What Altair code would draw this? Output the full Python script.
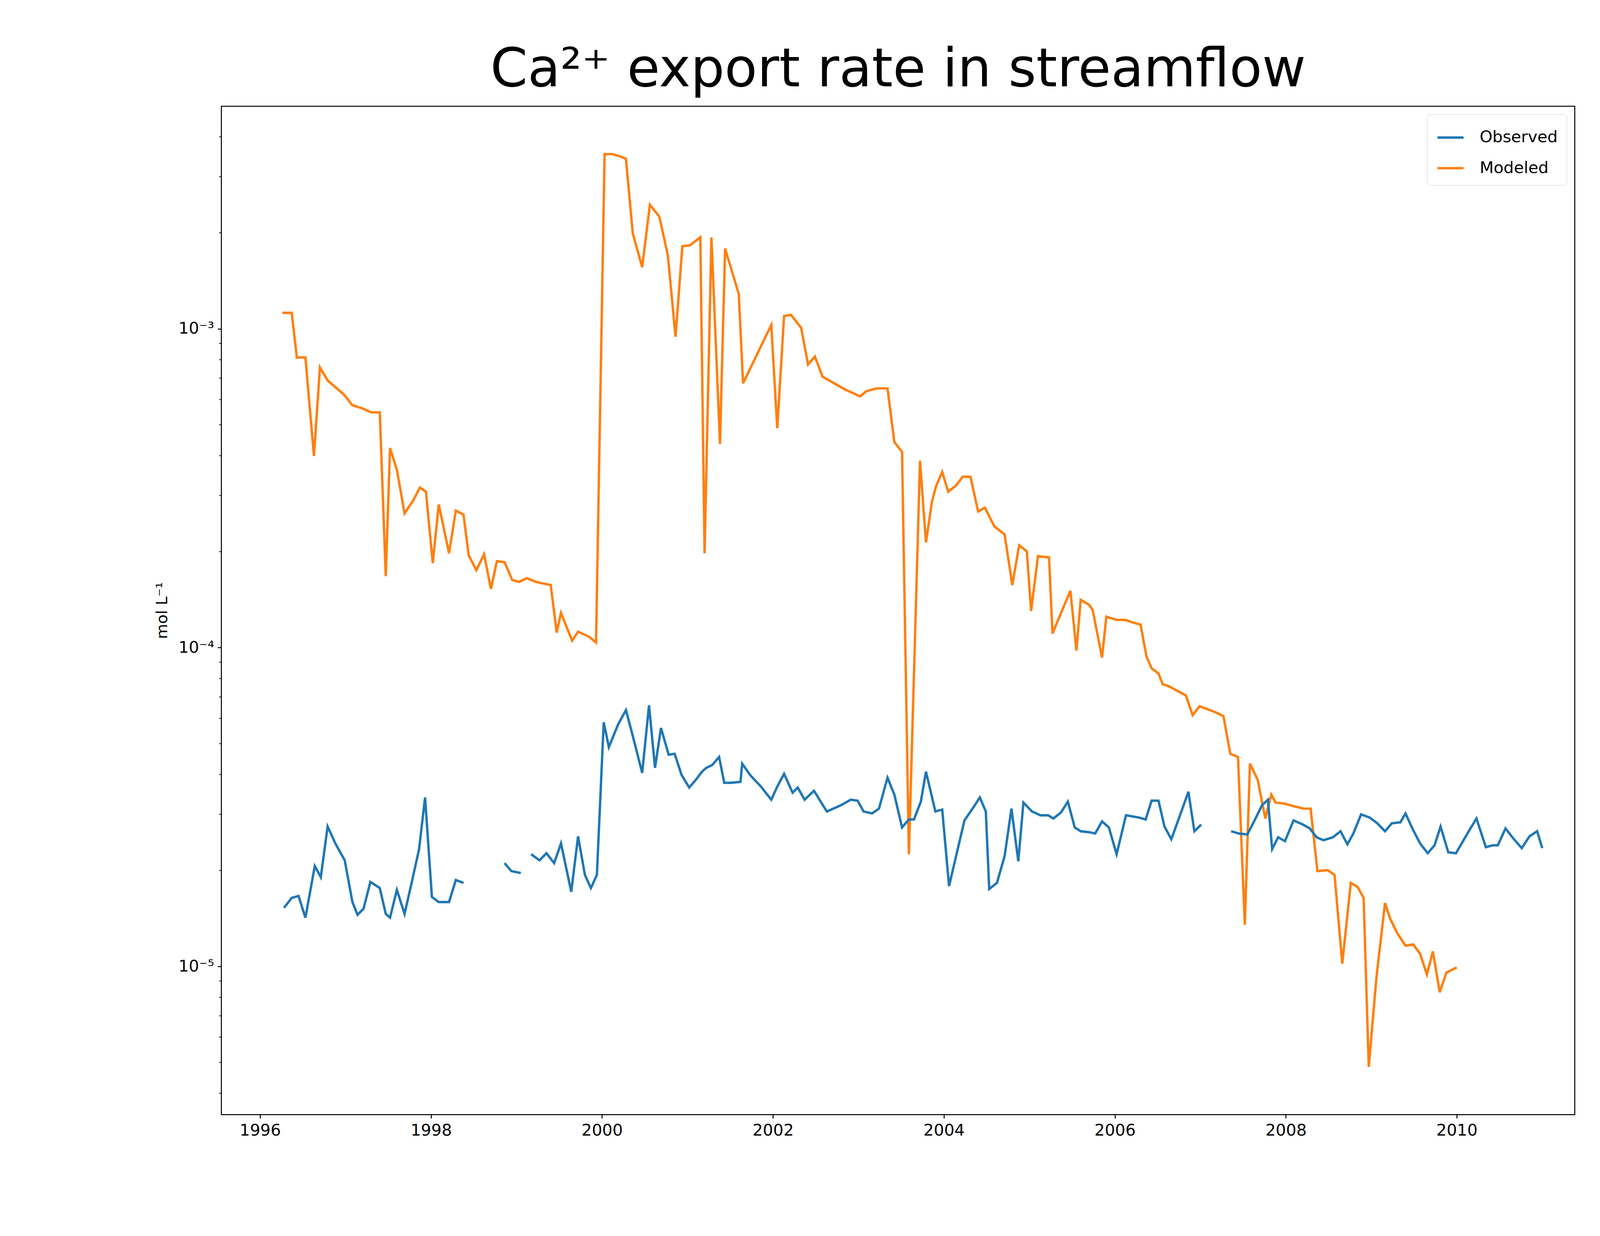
import pandas as pd
import altair as alt

# values: decimal year and log10(mol/L)
mod_year = [1996.26, 1996.37, 1996.43, 1996.53, 1996.63, 1996.70, 1996.79, 1996.98, 1997.08, 1997.19,
            1997.30, 1997.40, 1997.47, 1997.52, 1997.60, 1997.69, 1997.79, 1997.87, 1997.94, 1998.02,
            1998.09, 1998.21, 1998.29, 1998.38, 1998.44, 1998.53, 1998.62, 1998.70, 1998.77, 1998.86,
            1998.95, 1999.03, 1999.12, 1999.23, 1999.30, 1999.40, 1999.47, 1999.52, 1999.65, 1999.72,
            1999.85, 1999.93, 2000.03, 2000.12, 2000.20, 2000.28, 2000.36, 2000.47, 2000.56, 2000.67,
            2000.77, 2000.86, 2000.94, 2001.03, 2001.15, 2001.20, 2001.28, 2001.38, 2001.44, 2001.60,
            2001.65, 2001.98, 2002.05, 2002.13, 2002.21, 2002.33, 2002.41, 2002.49, 2002.58, 2002.84,
            2003.02, 2003.09, 2003.21, 2003.34, 2003.42, 2003.51, 2003.59, 2003.72, 2003.79, 2003.86,
            2003.91, 2003.98, 2004.05, 2004.14, 2004.22, 2004.31, 2004.40, 2004.48, 2004.59, 2004.71,
            2004.80, 2004.88, 2004.97, 2005.02, 2005.10, 2005.23, 2005.27, 2005.37, 2005.48, 2005.55,
            2005.60, 2005.70, 2005.74, 2005.85, 2005.90, 2006.02, 2006.12, 2006.22, 2006.30, 2006.37,
            2006.43, 2006.51, 2006.56, 2006.63, 2006.72, 2006.83, 2006.91, 2006.99, 2007.08, 2007.17,
            2007.27, 2007.35, 2007.44, 2007.52, 2007.58, 2007.67, 2007.76, 2007.83, 2007.88, 2007.98,
            2008.10, 2008.21, 2008.29, 2008.37, 2008.49, 2008.57, 2008.66, 2008.76, 2008.84, 2008.91,
            2008.97, 2009.06, 2009.16, 2009.22, 2009.30, 2009.40, 2009.49, 2009.57, 2009.65, 2009.72,
            2009.80, 2009.88, 2010.00]
mod_exp = [-2.950, -2.950, -3.090, -3.090, -3.399, -3.121, -3.162, -3.206, -3.240, -3.249,
           -3.262, -3.262, -3.776, -3.374, -3.442, -3.579, -3.539, -3.498, -3.511, -3.735,
           -3.551, -3.704, -3.570, -3.583, -3.710, -3.757, -3.707, -3.816, -3.729, -3.732,
           -3.788, -3.794, -3.782, -3.794, -3.798, -3.804, -3.953, -3.891, -3.978, -3.950,
           -3.966, -3.984, -2.452, -2.452, -2.458, -2.467, -2.701, -2.807, -2.611, -2.648,
           -2.769, -3.025, -2.741, -2.738, -2.713, -3.704, -2.713, -3.361, -2.748, -2.891,
           -3.171, -2.988, -3.312, -2.960, -2.956, -2.997, -3.112, -3.087, -3.150, -3.190,
           -3.212, -3.196, -3.187, -3.187, -3.355, -3.386, -4.648, -3.414, -3.670, -3.542,
           -3.492, -3.449, -3.511, -3.492, -3.464, -3.464, -3.573, -3.561, -3.620, -3.645,
           -3.804, -3.679, -3.698, -3.885, -3.713, -3.717, -3.956, -3.891, -3.822, -4.009,
           -3.850, -3.866, -3.882, -4.031, -3.903, -3.913, -3.913, -3.922, -3.928, -4.028,
           -4.065, -4.081, -4.115, -4.121, -4.134, -4.150, -4.212, -4.184, -4.193, -4.202,
           -4.215, -4.333, -4.343, -4.869, -4.364, -4.414, -4.536, -4.461, -4.486, -4.489,
           -4.498, -4.505, -4.505, -4.701, -4.698, -4.713, -4.991, -4.738, -4.751, -4.785,
           -5.315, -5.034, -4.801, -4.850, -4.894, -4.935, -4.931, -4.960, -5.025, -4.953,
           -5.081, -5.019, -5.003]

obs_year_1 = [1996.28, 1996.37, 1996.45, 1996.53, 1996.64, 1996.71, 1996.79, 1996.88, 1996.99, 1997.08,
              1997.14, 1997.21, 1997.29, 1997.40, 1997.47, 1997.52, 1997.60, 1997.69, 1997.78, 1997.86,
              1997.93, 1998.01, 1998.09, 1998.21, 1998.29, 1998.38]
obs_exp_1 = [-4.816, -4.785, -4.779, -4.847, -4.685, -4.720, -4.561, -4.614, -4.667, -4.798,
             -4.838, -4.819, -4.735, -4.754, -4.835, -4.847, -4.760, -4.835, -4.729, -4.632,
             -4.470, -4.782, -4.798, -4.798, -4.729, -4.738]
obs_year_2 = [1998.86, 1998.94, 1999.05]
obs_exp_2 = [-4.676, -4.701, -4.707]
obs_year_3 = [1999.17, 1999.27, 1999.35, 1999.44, 1999.52, 1999.64, 1999.72, 1999.80, 1999.87, 1999.94,
              2000.02, 2000.08, 2000.19, 2000.28, 2000.36, 2000.47, 2000.55, 2000.62, 2000.69, 2000.78,
              2000.85, 2000.93, 2001.02, 2001.10, 2001.17, 2001.22, 2001.29, 2001.37, 2001.43, 2001.51,
              2001.62, 2001.64, 2001.74, 2001.86, 2001.98, 2002.05, 2002.13, 2002.23, 2002.29, 2002.37,
              2002.48, 2002.63, 2002.79, 2002.91, 2002.99, 2003.06, 2003.16, 2003.24, 2003.34, 2003.42,
              2003.51, 2003.59, 2003.65, 2003.73, 2003.79, 2003.90, 2003.98, 2004.06, 2004.24, 2004.36,
              2004.42, 2004.49, 2004.53, 2004.62, 2004.71, 2004.79, 2004.87, 2004.93, 2005.03, 2005.13,
              2005.22, 2005.28, 2005.37, 2005.45, 2005.53, 2005.60, 2005.70, 2005.77, 2005.85, 2005.93,
              2006.02, 2006.13, 2006.28, 2006.36, 2006.43, 2006.51, 2006.58, 2006.66, 2006.77, 2006.86,
              2006.93, 2007.01]
obs_exp_3 = [-4.648, -4.667, -4.645, -4.676, -4.614, -4.766, -4.592, -4.713, -4.754, -4.713,
             -4.234, -4.312, -4.240, -4.196, -4.277, -4.393, -4.181, -4.377, -4.252, -4.336,
             -4.333, -4.399, -4.439, -4.414, -4.389, -4.377, -4.368, -4.343, -4.424, -4.424,
             -4.421, -4.364, -4.402, -4.436, -4.477, -4.436, -4.396, -4.455, -4.439, -4.477,
             -4.449, -4.514, -4.495, -4.477, -4.480, -4.514, -4.520, -4.505, -4.408, -4.461,
             -4.564, -4.539, -4.539, -4.483, -4.389, -4.514, -4.508, -4.748, -4.542, -4.495,
             -4.470, -4.514, -4.757, -4.738, -4.654, -4.505, -4.670, -4.486, -4.514, -4.526,
             -4.526, -4.536, -4.517, -4.483, -4.564, -4.576, -4.579, -4.583, -4.545, -4.564,
             -4.648, -4.526, -4.533, -4.539, -4.480, -4.480, -4.561, -4.601, -4.520, -4.452,
             -4.576, -4.555]
obs_year_4 = [2007.36, 2007.45, 2007.55, 2007.64, 2007.72, 2007.79, 2007.84, 2007.91, 2007.99, 2008.09,
              2008.20, 2008.28, 2008.36, 2008.44, 2008.55, 2008.64, 2008.72, 2008.79, 2008.88, 2008.98,
              2009.07, 2009.16, 2009.24, 2009.34, 2009.40, 2009.48, 2009.57, 2009.66, 2009.74, 2009.81,
              2009.90, 2009.99, 2010.14, 2010.23, 2010.34, 2010.42, 2010.48, 2010.57, 2010.65, 2010.76,
              2010.85, 2010.94, 2011.00]
obs_exp_4 = [-4.576, -4.583, -4.586, -4.539, -4.495, -4.477, -4.632, -4.595, -4.607, -4.542,
             -4.555, -4.567, -4.595, -4.604, -4.595, -4.576, -4.617, -4.583, -4.523, -4.533,
             -4.551, -4.576, -4.551, -4.548, -4.520, -4.567, -4.614, -4.645, -4.620, -4.561,
             -4.642, -4.645, -4.576, -4.536, -4.626, -4.620, -4.620, -4.567, -4.595, -4.629,
             -4.592, -4.576, -4.629]

rows = []
for yr, ex in zip(mod_year, mod_exp):
    rows.append({"series": "Modeled", "seg": "m", "year": yr, "value": 10 ** ex})
obs = [(obs_year_1, obs_exp_1), (obs_year_2, obs_exp_2), (obs_year_3, obs_exp_3), (obs_year_4, obs_exp_4)]
for i, (ys, es) in enumerate(obs):
    for yr, ex in zip(ys, es):
        rows.append({"series": "Observed", "seg": f"o{i}", "year": yr, "value": 10 ** ex})
df = pd.DataFrame(rows)

major = [1e-5, 1e-4, 1e-3]
minor = [m * 10 ** e for e in (-6, -5, -4, -3) for m in range(2, 10)]
minor = [v for v in minor if 3.43e-6 <= v <= 4.99e-3]

y_scale = alt.Scale(type="log", domain=[3.43e-6, 4.99e-3], nice=False)
x_scale = alt.Scale(domain=[1995.547, 2011.38], nice=False, zero=False)

lines = alt.Chart(df).mark_line(strokeWidth=6.5).encode(
    x=alt.X("year:Q", scale=x_scale, title=None,
            axis=alt.Axis(values=list(range(1996, 2011, 2)), format="d", grid=False,
                          labelFontSize=44, tickSize=10, tickWidth=2.7, labelPadding=12,
                          domainColor="black", tickColor="black", labelColor="black")),
    y=alt.Y("value:Q", scale=y_scale, title="mol L⁻¹",
            axis=alt.Axis(values=major, grid=False, orient="left", labelFontSize=44, titleFontSize=42,
                          titleFontWeight="normal", titlePadding=22, tickSize=10, tickWidth=2.7,
                          labelPadding=10, domainColor="black", tickColor="black", labelColor="black",
                          titleColor="black",
                          labelExpr="datum.value < 5e-5 ? '10⁻⁵' : datum.value < 5e-4 ? '10⁻⁴' : '10⁻³'")),
    color=alt.Color("series:N", scale=alt.Scale(domain=["Observed", "Modeled"], range=["#1f77b4", "#ff7f0e"]),
                    legend=alt.Legend(title=None, orient="top-right", labelFontSize=44, labelLimit=0,
                                      symbolType="stroke", symbolSize=5000, symbolStrokeWidth=6.5,
                                      strokeColor="#cccccc", fillColor="white", padding=24, cornerRadius=8,
                                      rowPadding=22, offset=22, labelOffset=40, labelColor="black")),
    detail="seg:N",
    order="year:Q",
)

minor_ticks = alt.Chart(pd.DataFrame({"v": minor})).mark_rule(color="black", strokeWidth=2).encode(
    y=alt.Y("v:Q", scale=y_scale),
    x=alt.value(-6),
    x2=alt.value(0),
)

chart = alt.layer(lines, minor_ticks).properties(
    width=3671, height=2735,
    title=alt.TitleParams("Ca²⁺ export rate in streamflow", fontSize=145, fontWeight="normal", offset=24,
                          color="black"),
    padding={"left": 410, "top": 20, "right": 60, "bottom": 20},
).configure(font="DejaVu Sans").configure_view(stroke="black", strokeWidth=2.7)

chart.save("out.html", embed_options={"renderer": "svg", "actions": False})
